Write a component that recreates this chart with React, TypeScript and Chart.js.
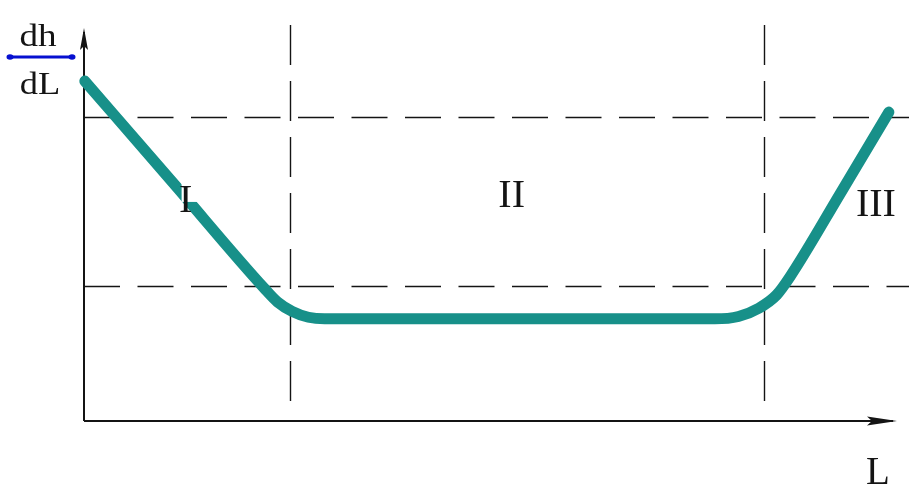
import React, { useEffect, useRef } from "react";
import { Chart, registerables } from "chart.js";

Chart.register(...registerables);

// Gradient dh/dL along the length L (arbitrary units, 0..100 on both axes)
const lengthL = [0.1, 11.2, 22.2, 23.8, 25.6, 27.6, 29.6, 53.6, 77.6, 80.5, 83.0, 85.2, 86.9, 93.0, 99.0];
const slopeDhDl = [86.5, 60.0, 33.7, 30.3, 27.9, 26.4, 26.0, 26.0, 26.0, 26.6, 28.7, 32.1, 36.9, 57.8, 78.6];

// Zone boundaries (vertical dashed lines) and reference levels (horizontal dashed lines)
const zoneBoundsL = [25.3, 83.6];
const levelDhDl = [77.4, 34.4];

// Zone names and where they sit
const zoneNames = ["I", "II", "III"];
const zoneLabelL = [12.5, 52.6, 97.4];
const zoneLabelDhDl = [53.2, 54.5, 52.2];

const CURVE = "#179089";
const INK = "#141414";
const SERIF = '"Liberation Serif", "DejaVu Serif", serif';

// draw text stretched horizontally, centred on x
function wideText(ctx: CanvasRenderingContext2D, text: string, x: number, y: number, sx: number) {
  ctx.save();
  ctx.translate(x, y);
  ctx.scale(sx, 1);
  ctx.fillText(text, 0, 0);
  ctx.restore();
}

const diagramPlugin = {
  id: "diagram",
  beforeDatasetsDraw(chart: any) {
    const { ctx, chartArea, scales, width } = chart;
    const xs = scales.x;
    const ys = scales.y;
    const x0 = chartArea.left;
    const y0 = chartArea.bottom;
    ctx.save();

    // dashed reference lines
    ctx.strokeStyle = INK;
    ctx.lineWidth = 1.4;
    ctx.setLineDash([36, 17.5]);
    levelDhDl.forEach((v) => {
      const py = Math.round(ys.getPixelForValue(v)) + 0.5;
      ctx.beginPath();
      ctx.moveTo(x0, py);
      ctx.lineTo(width, py);
      ctx.stroke();
    });
    ctx.setLineDash([40, 16]);
    zoneBoundsL.forEach((v) => {
      const px = Math.round(xs.getPixelForValue(v)) + 0.5;
      ctx.beginPath();
      ctx.moveTo(px, chartArea.top - 3);
      ctx.lineTo(px, y0 - 16);
      ctx.stroke();
    });
    ctx.setLineDash([]);

    // axes with arrowheads
    ctx.lineWidth = 2;
    ctx.beginPath();
    ctx.moveTo(x0, y0);
    ctx.lineTo(x0, chartArea.top + 4);
    ctx.moveTo(x0, y0);
    ctx.lineTo(chartArea.right - 4, y0);
    ctx.stroke();

    ctx.fillStyle = INK;
    const top = chartArea.top;
    ctx.beginPath();
    ctx.moveTo(x0, top);
    ctx.lineTo(x0 + 4, top + 22);
    ctx.lineTo(x0, top + 18);
    ctx.lineTo(x0 - 4, top + 22);
    ctx.closePath();
    ctx.fill();

    const right = chartArea.right;
    ctx.beginPath();
    ctx.moveTo(right, y0);
    ctx.lineTo(right - 30, y0 - 4.5);
    ctx.lineTo(right - 25, y0);
    ctx.lineTo(right - 30, y0 + 4.5);
    ctx.closePath();
    ctx.fill();
    ctx.restore();
  },
  afterDatasetsDraw(chart: any) {
    const { ctx, chartArea, scales } = chart;
    const xs = scales.x;
    const ys = scales.y;
    ctx.save();
    ctx.fillStyle = INK;
    ctx.textAlign = "center";
    ctx.textBaseline = "alphabetic";
    ctx.font = `40px ${SERIF}`;

    zoneNames.forEach((name, i) => {
      const px = xs.getPixelForValue(zoneLabelL[i]);
      const py = ys.getPixelForValue(zoneLabelDhDl[i]);
      if (i === 0) {
        // the first label sits on the curve, on a white patch
        ctx.fillStyle = "#ffffff";
        ctx.fillRect(px - 4, py - 32, 18, 22);
        ctx.fillStyle = INK;
      }
      ctx.fillText(name, px, py);
    });

    // y axis title: dh / dL
    const ax = chartArea.left;
    ctx.font = `32px ${SERIF}`;
    wideText(ctx, "dh", ax - 46, 46, 1.16);
    wideText(ctx, "dL", ax - 44, 94, 1.14);
    ctx.strokeStyle = "#0610d0";
    ctx.fillStyle = "#0610d0";
    ctx.lineWidth = 3;
    ctx.beginPath();
    ctx.moveTo(ax - 74, 57);
    ctx.lineTo(ax - 12, 57);
    ctx.stroke();
    [ax - 74, ax - 12].forEach((cx) => {
      ctx.beginPath();
      ctx.ellipse(cx, 57, 3.5, 2.8, 0, 0, Math.PI * 2);
      ctx.fill();
    });

    // x axis title
    ctx.fillStyle = INK;
    ctx.font = `39px ${SERIF}`;
    ctx.fillText("L", chartArea.right - 19, chartArea.bottom + 63);
    ctx.restore();
  },
};

export default function App() {
  const canvasRef = useRef<HTMLCanvasElement | null>(null);

  useEffect(() => {
    const canvas = canvasRef.current;
    if (!canvas) return;
    const chart = new Chart(canvas, {
      type: "line",
      data: {
        datasets: [
          {
            data: lengthL.map((x, i) => ({ x, y: slopeDhDl[i] })),
            borderColor: CURVE,
            borderWidth: 11,
            borderCapStyle: "round",
            borderJoinStyle: "round",
            cubicInterpolationMode: "monotone",
            pointRadius: 0,
            fill: false,
            clip: false,
          } as any,
        ],
      },
      options: {
        responsive: false,
        animation: false,
        events: [],
        layout: { padding: { left: 84, right: 12, top: 28, bottom: 65 } },
        scales: {
          x: { type: "linear", min: 0, max: 100, display: false },
          y: { type: "linear", min: 0, max: 100, display: false },
        },
        plugins: {
          legend: { display: false },
          tooltip: { enabled: false },
        },
      },
      plugins: [diagramPlugin],
    });
    return () => chart.destroy();
  }, []);

  return (
    <div style={{ position: "absolute", left: 0, top: 0, width: 909, height: 486, background: "#fff" }}>
      <canvas ref={canvasRef} width={909} height={486} />
    </div>
  );
}
